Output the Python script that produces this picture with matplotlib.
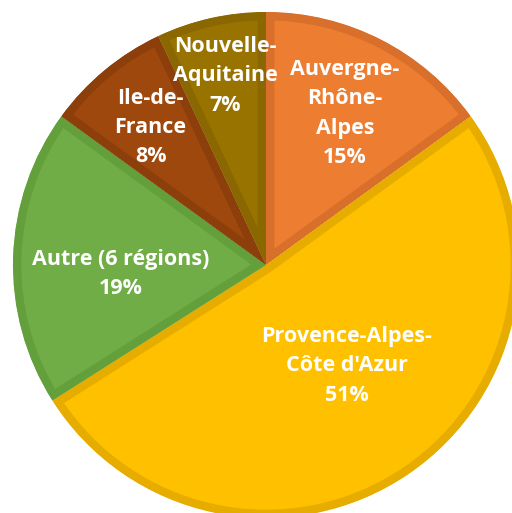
import matplotlib
matplotlib.use("Agg")
import matplotlib.pyplot as plt
import numpy as np

labels = ["Auvergne-\nRhône-\nAlpes", "Provence-Alpes-\nCôte d'Azur", "Autre (6 régions)", "Ile-de-\nFrance", "Nouvelle-\nAquitaine"]
values = [15, 51, 19, 8, 7]
colors = ["#ED7D31", "#FFC000", "#70AD47", "#9E480E", "#997300"]
edge_colors = ["#D86F2A", "#E6AD00", "#63A03C", "#8C3F0B", "#8A6700"]
label_dist = [0.675, 0.51, 0.575, 0.71, 0.765]
label_frac = [0.49, 0.524, 0.58, 0.514, 0.48]

W, H = 512, 513
fig = plt.figure(figsize=(W / 100, H / 100), dpi=100)
ax = fig.add_axes([0, 0, 1, 1])

cx, cy, r = 266, H - 265, 253
wedges, _ = ax.pie(values, startangle=90, counterclock=False, colors=colors,
                   center=(cx, cy), radius=r, frame=True)
ax.set_xlim(0, W)
ax.set_ylim(0, H)
ax.set_aspect("equal")
ax.axis("off")

total = sum(values)
for w, ec, v, lab, d, fr in zip(wedges, edge_colors, values, labels, label_dist, label_frac):
    w.set_edgecolor(ec)
    w.set_linewidth(12)
    w.set_joinstyle("miter")
    w.set_clip_path(w)
    w.set_clip_on(True)
    ang = np.deg2rad(w.theta1 + fr * (w.theta2 - w.theta1))
    x = cx + d * r * np.cos(ang)
    y = cy + d * r * np.sin(ang)
    pct = round(v / total * 100)
    ax.text(x, y, f"{lab}\n{pct}%", ha="center", va="center", color="white",
            fontsize=15.5, fontweight="bold", family="Open Sans", linespacing=1.52)

fig.savefig("out.png", dpi=100)
